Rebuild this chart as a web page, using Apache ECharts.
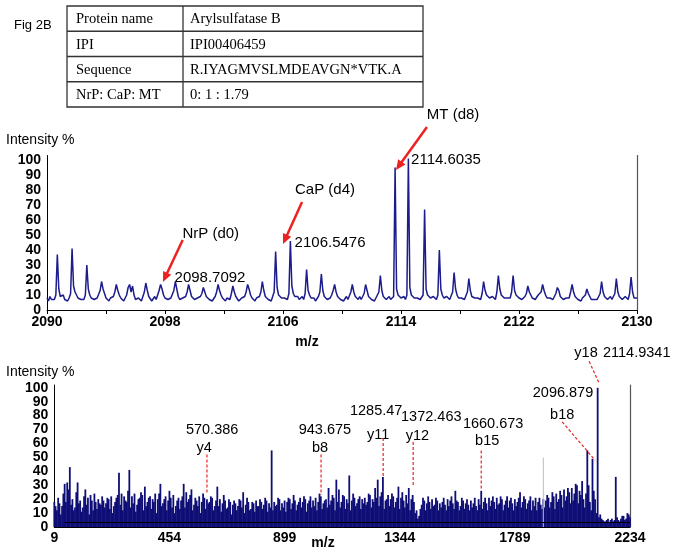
<!DOCTYPE html>
<html><head><meta charset="utf-8">
<script src="https://cdn.jsdelivr.net/npm/echarts@6/dist/echarts.min.js"></script>
<style>html,body{margin:0;padding:0;background:#fff}#c{width:674px;height:556px}</style>
</head><body><div id="c"></div>
<script>
// ---------- data ----------
const tableLabels = ['Protein name', 'IPI', 'Sequence', 'NrP: CaP: MT'];
const tableValues = ['Arylsulfatase B', 'IPI00406459', 'R.IYAGMVSLMDEAVGN*VTK.A', '0: 1 : 1.79'];

// MS survey scan, sampled every 0.1 m/z from 2090.0 to 2130.0 (one row per m/z unit)
const topMzStart = 2090, topMzStep = 0.1;
const topIntensity = [
  8, 6, 9, 7, 8, 7, 10, 37, 14, 9,
  8, 10, 7, 8, 6, 8, 11, 41, 16, 12,
  10, 8, 9, 7, 8, 7, 10, 30, 14, 10,
  8, 9, 7, 6, 8, 9, 13, 19, 14, 11,
  8, 7, 6, 8, 7, 9, 12, 17, 13, 10,
  8, 7, 6, 8, 10, 15, 17, 12, 16, 10,
  7, 6, 8, 7, 6, 9, 12, 18, 13, 9,
  8, 6, 7, 9, 7, 8, 13, 17, 14, 10,
  8, 9, 7, 6, 8, 9, 13, 19, 14, 9,
  7, 6, 8, 7, 9, 12, 17, 13, 9, 8,
  7, 6, 8, 7, 9, 11, 15, 12, 9, 8,
  7, 8, 6, 7, 9, 12, 17, 13, 10, 8,
  7, 6, 8, 9, 7, 11, 16, 12, 9, 8,
  6, 7, 8, 7, 9, 12, 17, 14, 10, 8,
  7, 6, 8, 7, 9, 12, 19, 13, 9, 8,
  7, 8, 6, 9, 12, 39, 15, 10, 9, 8,
  7, 8, 9, 7, 11, 46, 16, 11, 9, 8,
  9, 7, 8, 9, 7, 11, 27, 13, 10, 8,
  7, 8, 6, 7, 9, 12, 24, 13, 9, 8,
  7, 6, 8, 10, 13, 17, 12, 9, 8, 7,
  8, 6, 7, 9, 7, 8, 12, 17, 12, 9,
  8, 7, 9, 7, 8, 11, 17, 13, 9, 8,
  7, 8, 6, 8, 9, 12, 23, 13, 9, 8,
  7, 8, 9, 7, 6, 9, 95, 14, 10, 9,
  8, 7, 9, 7, 10, 101, 15, 10, 9, 8,
  7, 8, 9, 7, 8, 10, 67, 14, 10, 9,
  8, 7, 9, 8, 7, 10, 40, 14, 10, 8,
  7, 9, 8, 7, 8, 12, 25, 14, 10, 8,
  7, 8, 9, 7, 8, 12, 21, 13, 9, 8,
  8, 7, 8, 9, 7, 11, 19, 13, 10, 9,
  8, 7, 9, 8, 7, 12, 23, 14, 10, 9,
  8, 7, 8, 9, 8, 12, 23, 13, 10, 9,
  8, 9, 7, 8, 9, 11, 16, 12, 10, 8,
  9, 7, 8, 10, 9, 12, 17, 13, 10, 8,
  7, 8, 9, 7, 8, 11, 15, 13, 9, 8,
  7, 6, 8, 9, 8, 12, 17, 12, 9, 8,
  7, 8, 6, 8, 9, 10, 14, 11, 9, 7,
  8, 7, 8, 7, 9, 11, 19, 12, 9, 8,
  7, 8, 9, 7, 8, 11, 21, 12, 9, 8,
  7, 8, 9, 8, 7, 11, 22, 12, 8, 9,
  8
];

// MS/MS spectrum: sticks every 10 m/z starting at 9 ...
const msmsMzStart = 9, msmsMzStep = 10;
const msmsIntensity = [
  18, 12, 17, 15, 31, 32, 43, 20, 14, 32,
  19, 14, 27, 21, 23, 12, 18, 20, 16, 19,
  17, 20, 22, 15, 21, 39, 24, 22, 18, 41,
  22, 24, 16, 21, 23, 29, 18, 22, 20, 24,
  20, 31, 17, 22, 19, 21, 23, 15, 21, 19,
  31, 25, 20, 27, 16, 19, 22, 18, 21, 20,
  18, 21, 15, 29, 20, 17, 19, 14, 18, 16,
  17, 15, 19, 25, 16, 18, 13, 17, 19, 15,
  18, 16, 19, 17, 55, 18, 16, 20, 17, 19,
  18, 20, 17, 19, 16, 21, 18, 20, 17, 22,
  19, 21, 18, 22, 17, 20, 28, 19, 21, 34,
  27, 18, 22, 20, 37, 19, 21, 17, 22, 20,
  21, 18, 23, 20, 28, 34, 22, 36, 19, 23,
  20, 22, 18, 29, 21, 19, 23, 28, 20, 18,
  12, 8, 16, 19, 17, 18, 20, 16, 19, 17,
  18, 16, 20, 19, 17, 26, 18, 15, 19, 17,
  16, 19, 17, 15, 20, 26, 18, 17, 21, 19,
  18, 21, 17, 20, 16, 22, 19, 17, 20, 18,
  25, 18, 20, 17, 22, 19, 21, 18, 16, 20,
  19, 21, 18, 22, 24, 20, 23, 27, 22, 25,
  28, 24, 30, 26, 33, 14, 55, 18, 49, 20,
  100, 9, 5, 4, 6, 5, 4, 36, 5, 6,
  8, 6, 9
];
// ... and the sticks in between (every 10 m/z starting at 14)
const msmsMidMzStart = 14;
const msmsMidIntensity = [
  15, 21, 9, 24, 18, 27, 16, 12, 25, 17,
  11, 22, 16, 9, 19, 24, 13, 17, 22, 14,
  21, 13, 10, 18, 23, 16, 12, 19, 26, 14,
  17, 11, 20, 25, 12, 15, 21, 13, 18, 10,
  24, 15, 20, 12, 26, 14, 10, 19, 13, 22,
  14, 18, 23, 12, 21, 15, 10, 24, 13, 17,
  22, 12, 19, 15, 11, 23, 13, 20, 9, 19,
  12, 20, 14, 10, 21, 12, 18, 11, 15, 20,
  13, 21, 11, 14, 12, 15, 21, 12, 14, 11,
  21, 13, 23, 12, 18, 14, 22, 11, 19, 14,
  15, 12, 24, 13, 19, 14, 16, 23, 12, 18,
  14, 23, 13, 17, 12, 24, 15, 20, 13, 17,
  16, 24, 14, 18, 21, 15, 25, 13, 20, 15,
  24, 14, 21, 13, 25, 14, 17, 12, 23, 10,
  6, 13, 21, 12, 22, 13, 15, 21, 12, 14,
  21, 12, 15, 22, 13, 19, 12, 21, 13, 20,
  12, 14, 21, 12, 16, 13, 21, 12, 15, 22,
  13, 16, 22, 12, 19, 14, 21, 12, 15, 21,
  14, 22, 13, 19, 12, 15, 12, 21, 13, 14,
  23, 14, 25, 13, 18, 26, 14, 19, 28, 17,
  19, 31, 17, 23, 20, 24, 30, 12, 26, 10,
  7, 6, 4, 5, 3, 6, 5, 7, 4, 8,
  5, 10, 7
];
const faintPeakMz = [1899];
const faintPeakIntensity = [50];
const msmsBaseline = 3.6;

const topXLabels = [2090, 2098, 2106, 2114, 2122, 2130];
const bottomXLabels = [9, 454, 899, 1344, 1789, 2234];
const yLabels = [0, 10, 20, 30, 40, 50, 60, 70, 80, 90, 100];

// annotations (data coordinates)
const topArrows = [
  { from: [2099.2, 46.7], to: [2097.86, 18.7] },
  { from: [2107.29, 72], to: [2106.0, 44] },
  { from: [2115.76, 122], to: [2113.66, 93.3] }
];
const topTexts = [
  { text: 'NrP (d0)', at: [2101.1, 51] },
  { text: '2098.7092', at: [2101.05, 21.3] },
  { text: 'CaP (d4)', at: [2108.85, 80] },
  { text: '2106.5476', at: [2109.19, 44.7] },
  { text: 'MT (d8)', at: [2117.53, 130] },
  { text: '2114.6035', at: [2117.05, 100] }
];
const bottomTexts = [
  { text: '570.386', at: [619, 70] }, { text: 'y4', at: [588, 57] },
  { text: '943.675', at: [1055, 70] }, { text: 'b8', at: [1036, 57] },
  { text: '1285.47', at: [1253, 83] }, { text: 'y11', at: [1261, 66] },
  { text: '1372.463', at: [1466, 79] }, { text: 'y12', at: [1412, 65.5] },
  { text: '1660.673', at: [1705, 74] }, { text: 'b15', at: [1682, 62] },
  { text: '2096.879', at: [1975, 96] }, { text: 'b18', at: [1972, 80.6] },
  { text: 'y18', at: [2064, 125] }, { text: '2114.9341', at: [2260, 125] }
];
const bottomDashes = [
  [[599, 52], [599, 24.5]],
  [[1040, 52], [1040, 23]],
  [[1280, 64], [1280, 36]],
  [[1396, 61], [1396, 30]],
  [[1659, 55], [1659, 26.6]],
  [[1972, 75.5], [2099, 48]],
  [[2076, 119], [2114, 103.6]]
];

// ---------- chart ----------
const SANS = '"Liberation Sans", Arial, Helvetica, sans-serif';
const SERIF = '"Liberation Serif", "Times New Roman", serif';
const RED = '#ec2222';
const NAVY = '#0e0e76';
const chart = echarts.init(document.getElementById('c'));

const topData = topIntensity.map((v, i) => [+(topMzStart + i * topMzStep).toFixed(1), v]);
const msmsData = msmsIntensity.map((v, i) => [msmsMzStart + i * msmsMzStep, v]);
const msmsMidData = msmsMidIntensity.map((v, i) => [msmsMidMzStart + i * msmsMzStep, v]);
const faintData = faintPeakMz.map((m, i) => [m, faintPeakIntensity[i]]);

const boldLabel = { color: '#000', fontWeight: 'bold', fontSize: 14, fontFamily: SANS };
const hiddenX = { gridIndex: 1, type: 'value', min: 9, max: 2234, show: false, position: 'top' };

chart.setOption({
  animation: false,
  textStyle: { fontFamily: SANS },
  grid: [
    { left: 47, right: 37, top: 155.5, bottom: 246, containLabel: false },
    { left: 54.3, right: 44, top: 385, bottom: 29, containLabel: false }
  ],
  xAxis: [
    { gridIndex: 0, type: 'value', min: 2090, max: 2130, interval: 4,
      axisLine: { lineStyle: { color: '#000', width: 1 } },
      axisTick: { show: true, length: 4, lineStyle: { color: '#000' } },
      splitLine: { show: false },
      axisLabel: Object.assign({ margin: 5, formatter: v => topXLabels.includes(v) ? String(v) : '' }, boldLabel) },
    { gridIndex: 1, type: 'value', min: 9, max: 2234, interval: 445,
      axisLine: { lineStyle: { color: '#000', width: 1 } },
      axisTick: { show: false }, splitLine: { show: false },
      axisLabel: Object.assign({ margin: 4, formatter: v => bottomXLabels.includes(v) ? String(v) : '' }, boldLabel) },
    Object.assign({}, hiddenX),
    Object.assign({}, hiddenX)
  ],
  yAxis: [
    { gridIndex: 0, type: 'value', min: 0, max: 103, interval: 10,
      axisLine: { show: true, lineStyle: { color: '#000' } }, axisTick: { show: false }, splitLine: { show: false },
      axisLabel: Object.assign({ margin: 6, showMaxLabel: false, formatter: v => yLabels.includes(v) ? String(v) : '' }, boldLabel) },
    { gridIndex: 0, type: 'value', position: 'right', min: 0, max: 103,
      axisLine: { show: true, lineStyle: { color: '#555', width: 1.2 } }, axisTick: { show: false }, axisLabel: { show: false }, splitLine: { show: false } },
    { gridIndex: 1, type: 'value', min: 0, max: 102, interval: 10,
      axisLine: { show: true, lineStyle: { color: '#000' } }, axisTick: { show: false }, splitLine: { show: false },
      axisLabel: Object.assign({ margin: 6, showMaxLabel: false, formatter: v => yLabels.includes(v) ? String(v) : '' }, boldLabel) },
    { gridIndex: 1, type: 'value', position: 'right', min: 0, max: 102,
      axisLine: { show: true, lineStyle: { color: '#555', width: 1.2 } }, axisTick: { show: false }, axisLabel: { show: false }, splitLine: { show: false } }
  ],
  series: [
    { type: 'line', xAxisIndex: 0, yAxisIndex: 0, data: topData, showSymbol: false, symbol: 'none',
      lineStyle: { color: '#1c1c8c', width: 1.5 }, z: 3 },
    { type: 'bar', xAxisIndex: 1, yAxisIndex: 2, data: msmsData, barWidth: 1.8,
      itemStyle: { color: NAVY },
      markLine: { silent: true, symbol: 'none', label: { show: false }, z: 10,
        lineStyle: { color: '#000', width: 1.2, type: 'solid' },
        data: [[{ coord: [50, msmsBaseline] }, { coord: [2234, msmsBaseline] }]] } },
    { type: 'bar', xAxisIndex: 2, yAxisIndex: 2, data: msmsMidData, barWidth: 1.8,
      itemStyle: { color: NAVY } },
    { type: 'bar', xAxisIndex: 3, yAxisIndex: 2, data: faintData, barWidth: 1,
      itemStyle: { color: '#b4bdd6' } }
  ]
});

// ---------- graphic overlay ----------
const g = [];
const TOP = { xAxisIndex: 0, yAxisIndex: 0 }, BOT = { xAxisIndex: 1, yAxisIndex: 2 };
const P = (f, pt) => chart.convertToPixel(f, pt);
function text(t, x, y, o) {
  o = o || {};
  g.push({ type: 'text', x: x, y: y, z: 100, style: {
    text: t, fill: '#000', font: o.font || ('15px ' + SANS),
    textAlign: o.align || 'center', textVerticalAlign: 'middle', align: o.align || 'center', verticalAlign: 'middle' } });
}
// Fig label
text('Fig 2B', 14, 25, { font: '13px ' + SANS, align: 'left' });
// table
const tX = 67, tY = 6, tW = 356, rowH = 25.25, colX = 183;
g.push({ type: 'rect', z: 100, shape: { x: tX, y: tY, width: tW, height: rowH * 4 }, style: { fill: 'none', stroke: '#333', lineWidth: 1.3 } });
for (let r = 1; r < 4; r++) g.push({ type: 'line', z: 100, shape: { x1: tX, y1: tY + r * rowH, x2: tX + tW, y2: tY + r * rowH }, style: { stroke: '#333', lineWidth: 1.3 } });
g.push({ type: 'line', z: 100, shape: { x1: colX, y1: tY, x2: colX, y2: tY + rowH * 4 }, style: { stroke: '#333', lineWidth: 1.3 } });
tableLabels.forEach((l, r) => {
  text(l, tX + 9, tY + rowH * (r + 0.5) + 1, { font: '14.5px ' + SERIF, align: 'left' });
  text(tableValues[r], colX + 7, tY + rowH * (r + 0.5) + 1, { font: '14.5px ' + SERIF, align: 'left' });
});
// axis titles
text('Intensity %', 6, 140, { font: '14px ' + SANS, align: 'left' });
text('m/z', 307, 342, { font: 'bold 14px ' + SANS });
text('Intensity %', 6, 372, { font: '14px ' + SANS, align: 'left' });
text('m/z', 323, 543, { font: 'bold 14px ' + SANS });
// arrows
topArrows.forEach(a => {
  const t = P(TOP, a.from), h = P(TOP, a.to);
  const dx = h[0] - t[0], dy = h[1] - t[1], len = Math.hypot(dx, dy);
  const ux = dx / len, uy = dy / len, nx = -uy, ny = ux;
  const hl = 10, hw = 4.5;
  const bx = h[0] - ux * hl, by = h[1] - uy * hl;
  g.push({ type: 'line', z: 101, shape: { x1: t[0], y1: t[1], x2: bx + ux * 2, y2: by + uy * 2 }, style: { stroke: RED, lineWidth: 2.5 } });
  g.push({ type: 'polygon', z: 101, shape: { points: [[h[0], h[1]], [bx + nx * hw, by + ny * hw], [bx - nx * hw, by - ny * hw]] }, style: { fill: RED } });
});
topTexts.forEach(o => { const p = P(TOP, o.at); text(o.text, p[0], p[1]); });
bottomTexts.forEach(o => { const p = P(BOT, o.at); text(o.text, p[0], p[1], { font: '14.5px ' + SANS }); });
bottomDashes.forEach(d => {
  const a = P(BOT, d[0]), b = P(BOT, d[1]);
  g.push({ type: 'line', z: 101, shape: { x1: a[0], y1: a[1], x2: b[0], y2: b[1] }, style: { stroke: RED, lineWidth: 1.2, lineDash: [3, 2] } });
});
chart.setOption({ graphic: g });
</script></body></html>
